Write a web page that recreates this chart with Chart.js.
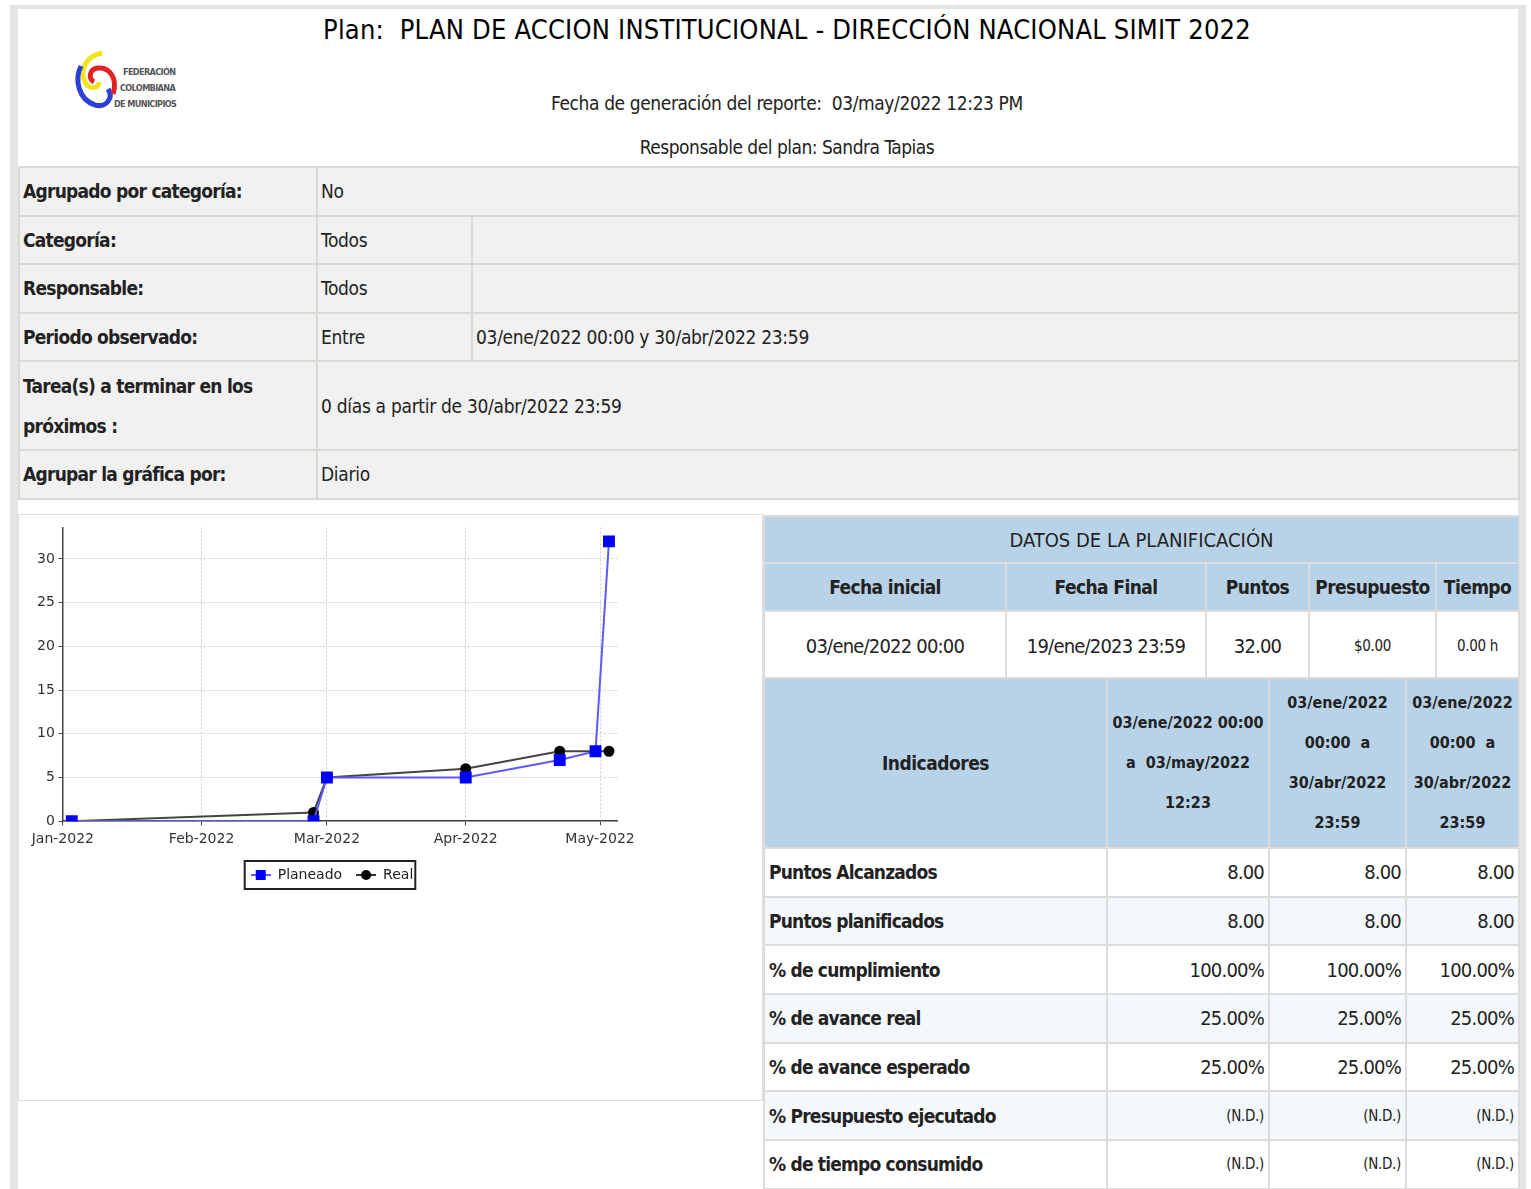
<!DOCTYPE html>
<html>
<head>
<meta charset="utf-8">
<title>Plan de accion institucional</title>
<script src="https://cdn.jsdelivr.net/npm/chart.js@4.4.1/dist/chart.umd.min.js"></script>
<style>
  body { margin: 0; background: #fff; color: #222;
    font-family: "DejaVu Sans Condensed", "Liberation Sans Narrow", "DejaVu Sans", sans-serif; font-stretch: condensed; }
  #frame { position: absolute; left: 10px; top: 5px; width: 1516px; height: 1200px; background: #e5e5e5; }
  #page { position: absolute; left: 18px; top: 9px; width: 1500px; height: 1200px; background: #fff; }
  .hdr { position: absolute; left: 75px; width: 1424px; text-align: center; white-space: pre; }
  #title { top: 13px; font-size: 27px; line-height: 34px; color: #000; letter-spacing: 0.2px; }
  #fecha { top: 91px; font-size: 19px; line-height: 24px; letter-spacing: -0.4px; }
  #resp { top: 135px; font-size: 19px; line-height: 24px; letter-spacing: -0.5px; }
  #logo { position: absolute; left: 72px; top: 48px; }

  table { border-collapse: collapse; table-layout: fixed; position: absolute; }
  #info { left: 18px; top: 166px; width: 1500px; }
  #info td { background: #f1f1f1; border: 2px solid #dcd9d4; font-size: 19px; padding: 0 3px; height: 46.6px; letter-spacing: -0.3px; }
  #info td.k { font-weight: bold; letter-spacing: -0.75px; }
  #info tr.tall td { height: 86.6px; line-height: 40px; }

  #chartBox { position: absolute; left: 18px; top: 514px; width: 743px; height: 585px; border: 1px solid #dedede; background: #fff; }
  #chartBox canvas { position: absolute; left: 0; top: 0; }

  #plan { left: 763px; top: 515px; width: 755px; }
  #plan td { border: 2px solid #dcdcdc; text-align: center; font-size: 20px; letter-spacing: -0.8px; }
  #plan td.blue { background: #b8d3e8; }
  #plan tr.t td { height: 43px; letter-spacing: 0; }
  #plan tr.h td { font-weight: bold; height: 44px; font-size: 19px; letter-spacing: -0.6px; }
  #plan tr.d td { background: #fff; height: 65px; }
  #plan td.small { font-size: 15px; letter-spacing: -0.3px; }

  #ind { left: 763px; top: 677px; width: 755px; }
  #ind td { border: 2px solid #dcdcdc; font-size: 20px; height: 46.7px; padding: 0 4px; letter-spacing: -0.8px; }
  #ind tr.h td { background: #b8d3e8; font-weight: bold; text-align: center; height: 168px; font-size: 19px; letter-spacing: -0.5px; }
  #ind tr.h td.dt { font-size: 16px; line-height: 40px; padding: 0 2px; letter-spacing: 0; }
  #ind td.k { font-weight: bold; font-size: 19px; }
  #ind td.v { text-align: right; }
  #ind tr.alt td { background: #f4f8fb; }
  #ind td.nd { font-size: 15px; text-align: right; letter-spacing: -0.3px; }
</style>
</head>
<body>
<div id="frame"></div>
<div id="page"></div>

<div class="hdr" id="title">Plan:  PLAN DE ACCION INSTITUCIONAL - DIRECCIÓN NACIONAL SIMIT 2022</div>
<div class="hdr" id="fecha">Fecha de generación del reporte:  03/may/2022 12:23 PM</div>
<div class="hdr" id="resp">Responsable del plan: Sandra Tapias</div>

<svg id="logo" width="115" height="68" viewBox="0 0 115 68">
  <path d="M 30 5 C 14 8, 7 22, 13 34 C 17 42, 27 41, 27 34" fill="none" stroke="#f0e41a" stroke-width="5"/>
  <path d="M 9 18 C 2 32, 7 52, 23 57 C 34 60, 42 50, 36 41" fill="none" stroke="#2c3fd6" stroke-width="5"/>
  <path d="M 41 46 C 46 31, 38 19, 26 20 C 17 21, 16 31, 22 34" fill="none" stroke="#e52222" stroke-width="5"/>
  <g font-family="DejaVu Sans Condensed, DejaVu Sans" font-size="9" font-weight="bold" fill="#555" letter-spacing="-0.6">
    <text x="51" y="27">FEDERACIÓN</text>
    <text x="48" y="43">COLOMBIANA</text>
    <text x="42" y="59">DE MUNICIPIOS</text>
  </g>
</svg>

<table id="info">
  <colgroup><col style="width:298px"><col style="width:155px"><col style="width:1047px"></colgroup>
  <tr><td class="k">Agrupado por categoría:</td><td colspan="2">No</td></tr>
  <tr><td class="k">Categoría:</td><td>Todos</td><td></td></tr>
  <tr><td class="k">Responsable:</td><td>Todos</td><td></td></tr>
  <tr><td class="k">Periodo observado:</td><td>Entre</td><td>03/ene/2022 00:00 y 30/abr/2022 23:59</td></tr>
  <tr class="tall"><td class="k">Tarea(s) a terminar en los próximos :</td><td colspan="2">0 días a partir de 30/abr/2022 23:59</td></tr>
  <tr><td class="k">Agrupar la gráfica por:</td><td colspan="2">Diario</td></tr>
</table>

<div id="chartBox"><canvas id="avance" width="622" height="384"></canvas></div>

<table id="plan">
  <colgroup><col style="width:242px"><col style="width:200px"><col style="width:103px"><col style="width:127px"><col style="width:83px"></colgroup>
  <tr class="t"><td class="blue" colspan="5">DATOS DE LA PLANIFICACIÓN</td></tr>
  <tr class="h"><td class="blue">Fecha inicial</td><td class="blue">Fecha Final</td><td class="blue">Puntos</td><td class="blue">Presupuesto</td><td class="blue">Tiempo</td></tr>
  <tr class="d"><td>03/ene/2022 00:00</td><td>19/ene/2023 23:59</td><td>32.00</td><td class="small">$0.00</td><td class="small">0.00 h</td></tr>
</table>

<table id="ind">
  <colgroup><col style="width:343px"><col style="width:162px"><col style="width:137px"><col style="width:113px"></colgroup>
  <tr class="h"><td>Indicadores</td><td class="dt">03/ene/2022 00:00 a&nbsp; 03/may/2022 12:23</td><td class="dt">03/ene/2022 00:00&nbsp; a 30/abr/2022 23:59</td><td class="dt">03/ene/2022 00:00&nbsp; a 30/abr/2022 23:59</td></tr>
  <tr><td class="k">Puntos Alcanzados</td><td class="v">8.00</td><td class="v">8.00</td><td class="v">8.00</td></tr>
  <tr class="alt"><td class="k">Puntos planificados</td><td class="v">8.00</td><td class="v">8.00</td><td class="v">8.00</td></tr>
  <tr><td class="k">% de cumplimiento</td><td class="v">100.00%</td><td class="v">100.00%</td><td class="v">100.00%</td></tr>
  <tr class="alt"><td class="k">% de avance real</td><td class="v">25.00%</td><td class="v">25.00%</td><td class="v">25.00%</td></tr>
  <tr><td class="k">% de avance esperado</td><td class="v">25.00%</td><td class="v">25.00%</td><td class="v">25.00%</td></tr>
  <tr class="alt"><td class="k">% Presupuesto ejecutado</td><td class="nd">(N.D.)</td><td class="nd">(N.D.)</td><td class="nd">(N.D.)</td></tr>
  <tr><td class="k">% de tiempo consumido</td><td class="nd">(N.D.)</td><td class="nd">(N.D.)</td><td class="nd">(N.D.)</td></tr>
</table>

<script>
// fechas y valores de la grafica
const planDates = ['2022-01-03', '2022-02-26', '2022-03-01', '2022-04-01', '2022-04-22', '2022-04-30', '2022-05-03'];
const planValues = [0, 0, 5, 5, 7, 8, 32];
const realDates = ['2022-01-03', '2022-02-26', '2022-03-01', '2022-04-01', '2022-04-22', '2022-04-30', '2022-05-03'];
const realValues = [0, 1, 5, 6, 8, 8, 8];
const monthStarts = ['2022-01-01', '2022-02-01', '2022-03-01', '2022-04-01', '2022-05-01'];
const monthLabels = ['Jan-2022', 'Feb-2022', 'Mar-2022', 'Apr-2022', 'May-2022'];
const yTicks = [0, 5, 10, 15, 20, 25, 30];

// dias desde el 1 de enero
const dayOf = (d) => (Date.parse(d) - Date.parse('2022-01-01')) / 86400000;
const monthDays = monthStarts.map(dayOf);

const tickFont = { family: 'DejaVu Sans', size: 14 };

// icono de leyenda: linea con marcador
function legendIcon(lineColor, markColor, shape) {
  const c = document.createElement('canvas');
  c.width = 20; c.height = 12;
  const g = c.getContext('2d');
  g.strokeStyle = lineColor; g.lineWidth = 2;
  g.beginPath(); g.moveTo(0, 6); g.lineTo(20, 6); g.stroke();
  g.fillStyle = markColor;
  if (shape === 'rect') g.fillRect(5, 1, 10, 10);
  else { g.beginPath(); g.arc(10, 6, 5, 0, Math.PI * 2); g.fill(); }
  return c;
}
const icons = [legendIcon('#5a5aff', '#0000ff', 'rect'), legendIcon('#333', '#000', 'circle')];

// marco alrededor de la leyenda
const legendFrame = {
  id: 'legendFrame',
  afterDraw(chart) {
    const boxes = chart.legend.legendHitBoxes;
    if (!boxes || !boxes.length) return;
    const x0 = Math.min(...boxes.map(b => b.left)) - 6;
    const x1 = Math.max(...boxes.map(b => b.left + b.width)) + 2;
    const y0 = Math.min(...boxes.map(b => b.top)) - 7;
    const y1 = Math.max(...boxes.map(b => b.top + b.height)) + 7;
    const ctx = chart.ctx;
    ctx.save();
    ctx.strokeStyle = '#222';
    ctx.lineWidth = 2;
    ctx.strokeRect(x0, y0, x1 - x0, y1 - y0);
    ctx.restore();
  }
};

new Chart(document.getElementById('avance'), {
  type: 'line',
  plugins: [legendFrame],
  data: {
    datasets: [
      {
        label: 'Planeado',
        data: planDates.map((d, i) => ({ x: dayOf(d), y: planValues[i] })),
        borderColor: '#5a5aff',
        borderWidth: 2,
        pointStyle: 'rect',
        pointRadius: 7,
        pointBackgroundColor: '#0000ff',
        pointBorderColor: '#0000ff',
        tension: 0
      },
      {
        label: 'Real',
        data: realDates.map((d, i) => ({ x: dayOf(d), y: realValues[i] })),
        borderColor: '#444',
        borderWidth: 2,
        pointStyle: 'circle',
        pointRadius: 4.5,
        pointBackgroundColor: '#000',
        pointBorderColor: '#000',
        tension: 0
      }
    ]
  },
  options: {
    responsive: false,
    animation: false,
    layout: { padding: { top: 6, left: 14, right: 10, bottom: 7 } },
    scales: {
      x: {
        type: 'linear',
        min: 0,
        max: 123.8,
        afterBuildTicks: (axis) => { axis.ticks = monthDays.map(v => ({ value: v })); },
        ticks: {
          autoSkip: false, maxRotation: 0, color: '#333', font: tickFont, padding: 6,
          callback: (v) => monthLabels[monthDays.indexOf(v)]
        },
        grid: { color: '#cfcfcf', tickColor: '#444', tickLength: 4 },
        border: { color: '#444', width: 1.5, dash: [2, 2] }
      },
      y: {
        min: 0,
        max: 33.6,
        afterBuildTicks: (axis) => { axis.ticks = yTicks.map(v => ({ value: v })); },
        ticks: { color: '#333', font: tickFont, padding: 4 },
        grid: { color: '#cfcfcf', tickColor: '#444', tickLength: 4 },
        border: { color: '#444', width: 1.5, dash: [2, 2] }
      }
    },
    plugins: {
      tooltip: { enabled: false },
      legend: {
        position: 'bottom',
        labels: {
          usePointStyle: true,
          pointStyleWidth: 20,
          padding: 14,
          color: '#222',
          font: { family: 'DejaVu Sans', size: 14 },
          generateLabels: (chart) => chart.data.datasets.map((ds, i) => ({
            text: ds.label,
            pointStyle: icons[i],
            datasetIndex: i,
            fontColor: '#222',
            lineWidth: 0,
            strokeStyle: 'transparent',
            fillStyle: 'transparent'
          }))
        }
      }
    }
  }
});
</script>
</body>
</html>
